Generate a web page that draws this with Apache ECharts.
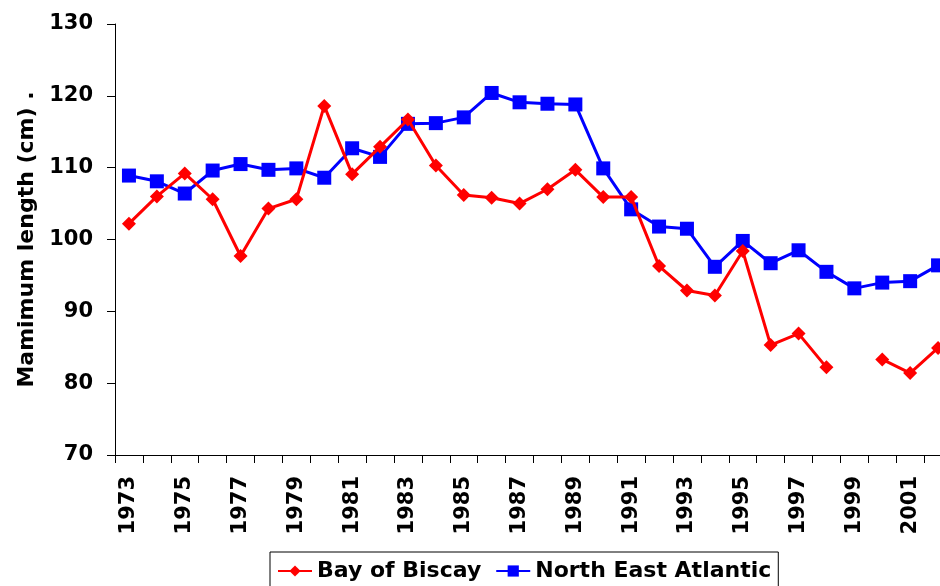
<!DOCTYPE html>
<html>
<head>
<meta charset="utf-8">
<script src="https://cdn.jsdelivr.net/npm/echarts@6/dist/echarts.min.js"></script>
<style>
  html, body { margin: 0; padding: 0; background: #fff; overflow: hidden; }
  /* the plot runs a little past the right edge of the window */
  #chart { width: 952px; height: 586px; }
</style>
</head>
<body>
<div id="chart"></div>
<script>
// Years on the category axis
const years = ['1973','1974','1975','1976','1977','1978','1979','1980','1981','1982',
               '1983','1984','1985','1986','1987','1988','1989','1990','1991','1992',
               '1993','1994','1995','1996','1997','1998','1999','2000','2001','2002'];

// Maximum length (cm) per year; null = no observation
const bayOfBiscay = [102.2, 106.0, 109.2, 105.6, 97.7, 104.3, 105.6, 118.6, 109.1, 112.9,
                     116.7, 110.3, 106.2, 105.8, 105.0, 107.0, 109.7, 105.9, 105.9, 96.3,
                     92.9, 92.2, 98.4, 85.3, 86.9, 82.2, null, 83.3, 81.4, 84.9];
const northEastAtlantic = [108.9, 108.1, 106.4, 109.6, 110.5, 109.7, 109.9, 108.6, 112.7, 111.5,
                           116.1, 116.2, 117.0, 120.4, 119.1, 118.9, 118.8, 109.9, 104.2, 101.8,
                           101.5, 96.2, 99.8, 96.7, 98.5, 95.5, 93.2, 94.0, 94.2, 96.4];

const FONT = 'DejaVu Sans';

const chart = echarts.init(document.getElementById('chart'), null, { renderer: 'canvas' });

chart.setOption({
  animation: false,
  backgroundColor: '#ffffff',
  grid: { left: 115, top: 24, right: 0, bottom: 131, containLabel: false },
  legend: {
    left: 270,
    top: 552,
    orient: 'horizontal',
    borderColor: '#000',
    borderWidth: 1,
    padding: [8, 7, 12, 7],
    itemGap: 14,
    itemWidth: 34,
    itemHeight: 14,
    textStyle: { fontFamily: FONT, fontWeight: 'bold', fontSize: 22, color: '#000' },
    data: ['Bay of Biscay', 'North East Atlantic']
  },
  xAxis: {
    type: 'category',
    data: years,
    boundaryGap: true,
    axisLine: { lineStyle: { color: '#000', width: 1 } },
    axisTick: { show: true, inside: false, length: 8, interval: 0, lineStyle: { color: '#000' } },
    axisLabel: {
      interval: 1,
      rotate: 90,
      margin: 21,
      fontFamily: FONT,
      fontWeight: 'bold',
      fontSize: 21,
      color: '#000'
    },
    splitLine: { show: false }
  },
  yAxis: {
    type: 'value',
    min: 70,
    max: 130,
    interval: 10,
    name: 'Mamimum length (cm) .',
    nameLocation: 'middle',
    nameGap: 76,
    nameTextStyle: { fontFamily: FONT, fontWeight: 'bold', fontSize: 22, color: '#000' },
    axisLine: { show: true, lineStyle: { color: '#000', width: 1 } },
    axisTick: { show: true, inside: false, length: 8, lineStyle: { color: '#000' } },
    axisLabel: { margin: 22, fontFamily: FONT, fontWeight: 'bold', fontSize: 21, color: '#000' },
    splitLine: { show: false }
  },
  series: [
    {
      name: 'Bay of Biscay',
      type: 'line',
      data: bayOfBiscay,
      connectNulls: false,
      symbol: 'diamond',
      symbolSize: 14,
      showAllSymbol: true,
      clip: false,
      lineStyle: { color: '#ff0000', width: 3 },
      itemStyle: { color: '#ff0000' },
      z: 3
    },
    {
      name: 'North East Atlantic',
      type: 'line',
      data: northEastAtlantic,
      symbol: 'rect',
      symbolSize: 14,
      showAllSymbol: true,
      clip: false,
      lineStyle: { color: '#0000ff', width: 3 },
      itemStyle: { color: '#0000ff' },
      z: 2
    }
  ]
});
</script>
</body>
</html>
